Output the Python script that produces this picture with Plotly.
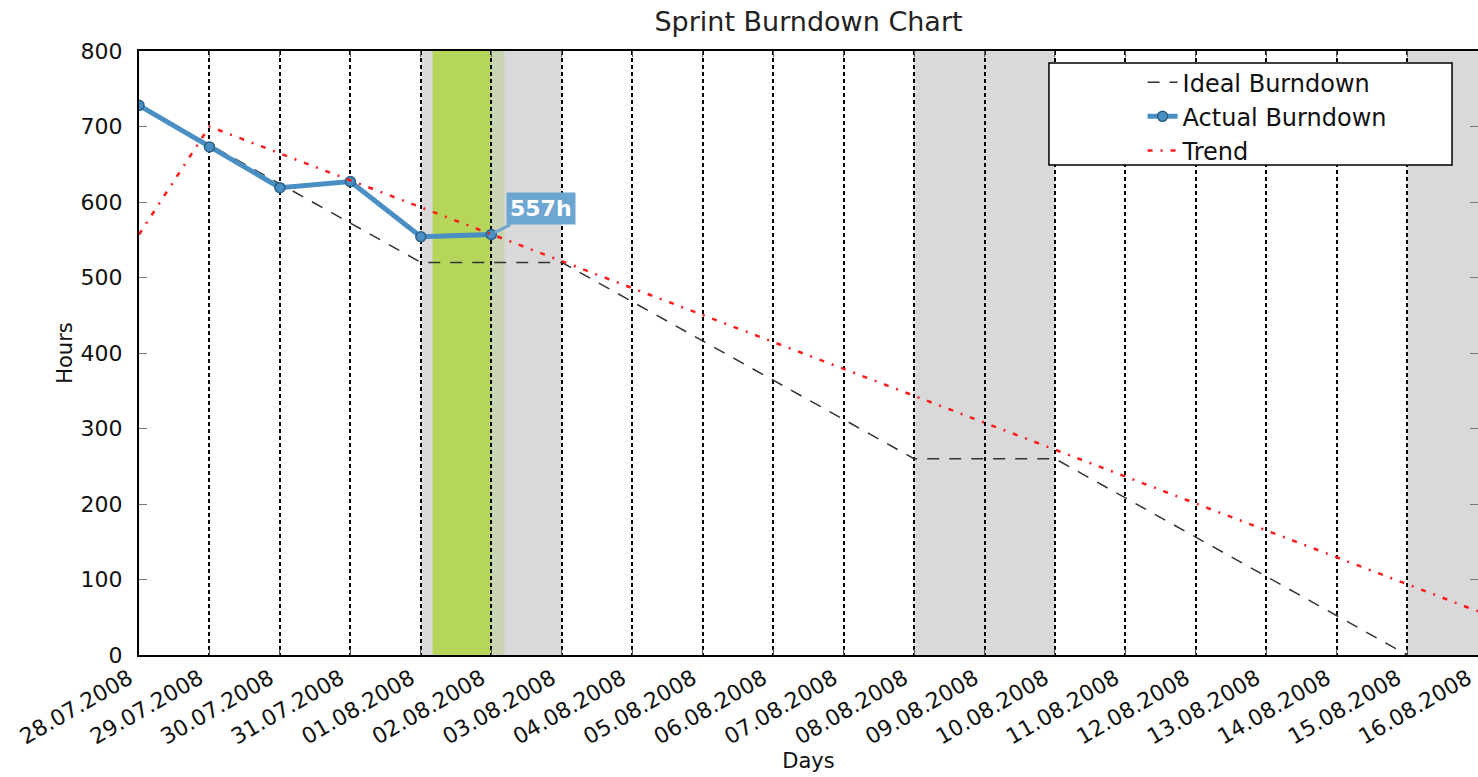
import plotly.graph_objects as go

# Sprint calendar
days = ["2008-07-28", "2008-07-29", "2008-07-30", "2008-07-31", "2008-08-01",
        "2008-08-02", "2008-08-03", "2008-08-04", "2008-08-05", "2008-08-06",
        "2008-08-07", "2008-08-08", "2008-08-09", "2008-08-10", "2008-08-11",
        "2008-08-12", "2008-08-13", "2008-08-14", "2008-08-15", "2008-08-16"]

# Ideal burndown: linear with flat weekends
ideal_days = ["2008-07-28", "2008-08-01", "2008-08-03", "2008-08-08", "2008-08-10", "2008-08-15"]
ideal_hours = [728, 520, 520, 260, 260, 0]

# Actual remaining hours logged so far
actual_days = ["2008-07-28", "2008-07-29", "2008-07-30", "2008-07-31", "2008-08-01", "2008-08-02"]
actual_hours = [728, 673, 619, 627, 554, 557]

# Trend line
trend_days = ["2008-07-28", "2008-07-29", "2008-08-16"]
trend_hours = [557, 700, 58]

# Non-working spans and the current day
weekend_starts = ["2008-08-01", "2008-08-08", "2008-08-15"]
weekend_ends = ["2008-08-03", "2008-08-10", "2008-08-16 00:05"]
today_start, today_end = "2008-08-01 04:00", "2008-08-02 00:00"
today_tail_end = "2008-08-02 04:30"

FONT = "DejaVu Sans"
BLUE = "#4a8fc4"
LABEL_BLUE = "#6ea6d2"

fig = go.Figure()

fig.add_trace(go.Scatter(
    x=ideal_days, y=ideal_hours, name="Ideal Burndown", mode="lines",
    line=dict(color="#333333", width=1.5, dash="12px,10px"),
))
fig.add_trace(go.Scatter(
    x=actual_days, y=actual_hours, name="Actual Burndown", mode="lines+markers",
    line=dict(color=BLUE, width=5),
    marker=dict(size=10, color=BLUE, line=dict(color="#2c5f85", width=1.5)),
))
fig.add_trace(go.Scatter(
    x=trend_days, y=trend_hours, name="Trend", mode="lines",
    line=dict(color="#ff1a1a", width=2.5, dash="5px,8px,2px,8px"),
))

shapes = []
for s, e in zip(weekend_starts, weekend_ends):
    shapes.append(dict(type="rect", xref="x", yref="paper", x0=s, x1=e, y0=0, y1=1,
                       fillcolor="#d9d9d9", line=dict(width=0), layer="below"))
shapes.append(dict(type="rect", xref="x", yref="paper", x0=today_start, x1=today_end,
                   y0=0, y1=1, fillcolor="#b5d65a", line=dict(width=0), layer="below"))
shapes.append(dict(type="rect", xref="x", yref="paper", x0=today_end, x1=today_tail_end,
                   y0=0, y1=1, fillcolor="#c9d4b2", line=dict(width=0), layer="below"))
# legend frame
shapes.append(dict(type="rect", xref="paper", yref="paper", x0=0.6796, x1=0.9806,
                   y0=0.8113, y1=0.9801, fillcolor="white",
                   line=dict(color="black", width=1.5), layer="above"))

fig.update_layout(
    width=1478, height=777,
    margin=dict(l=139, r=0, t=51, b=122),
    paper_bgcolor="white", plot_bgcolor="white",
    font=dict(family=FONT, size=22, color="#111111"),
    title=dict(text="Sprint Burndown Chart", x=(139 + 1478) / 2 / 1478, xanchor="center",
               y=1 - 22 / 777, yanchor="middle", font=dict(size=27, family=FONT, color="#222222")),
    shapes=shapes,
    showlegend=True,
    legend=dict(x=0.7495, xanchor="left", y=0.985, yanchor="top",
                bgcolor="rgba(0,0,0,0)", borderwidth=0,
                font=dict(size=24, family=FONT, color="#111111"), tracegroupgap=0),
    annotations=[dict(
        x=actual_days[-1], y=actual_hours[-1], xref="x", yref="y",
        text="<b>%dh</b>" % actual_hours[-1], showarrow=True,
        ax=50, ay=-26, arrowhead=0, arrowwidth=3, arrowcolor=LABEL_BLUE, standoff=4,
        bgcolor=LABEL_BLUE, borderpad=3, font=dict(color="white", size=22, family=FONT),
    )],
)

fig.update_xaxes(
    range=[days[0], "2008-08-16 00:05"], type="date", automargin=False,
    tickvals=days, tickformat="%d.%m.%Y", tickangle=-30,
    ticklabeloverflow="allow", ticklabelshift=-10,
    showgrid=True, gridcolor="black", gridwidth=1.5, griddash="4px,3px",
    showline=True, linecolor="black", linewidth=2, mirror="ticks",
    ticks="inside", ticklen=6, tickcolor="#555555",
    title=dict(text="Days", font=dict(size=21, family=FONT), standoff=4),
    tickfont=dict(size=22, family=FONT, color="#111111"),
)
fig.update_yaxes(
    range=[0, 800], tickvals=[0, 100, 200, 300, 400, 500, 600, 700, 800], automargin=False,
    showgrid=False, zeroline=False,
    showline=True, linecolor="black", linewidth=2, mirror="ticks",
    ticks="inside", ticklen=8, tickcolor="#777777", ticklabelstandoff=10,
    title=dict(text="Hours", font=dict(size=21, family=FONT), standoff=2),
    tickfont=dict(size=22, family=FONT, color="#111111"),
)

fig.write_html("out.html")
